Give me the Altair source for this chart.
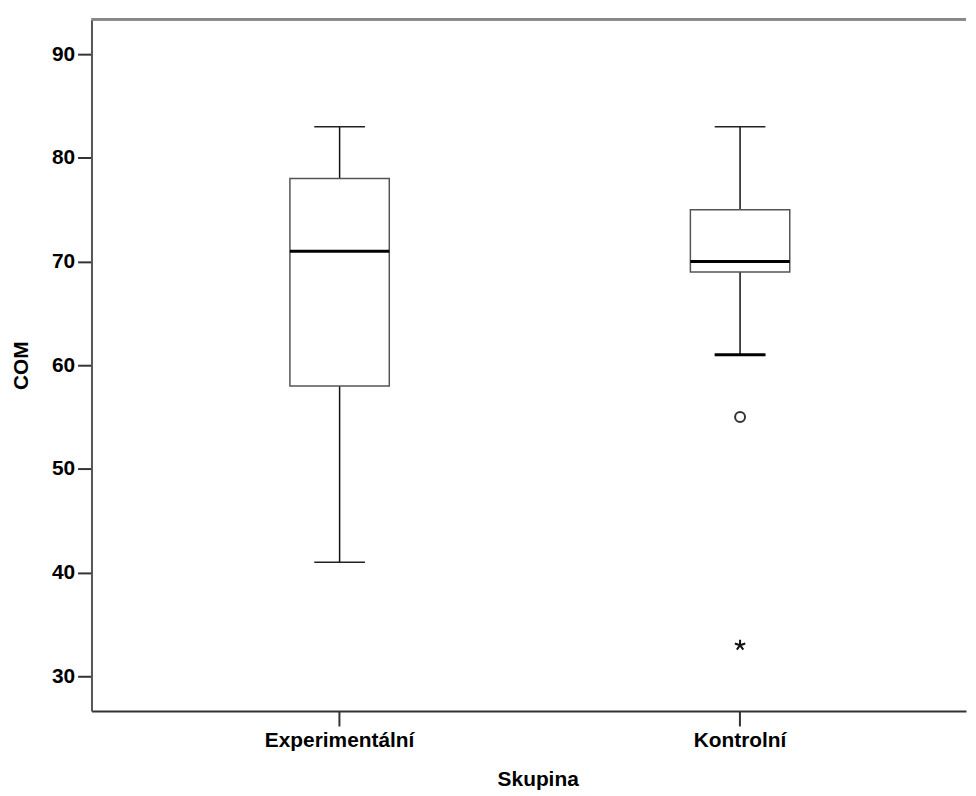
import altair as alt
import pandas as pd

groups = ["Experimentální", "Kontrolní"]
whisker_low = [41, 61]
q1 = [58, 69]
median = [71, 70]
q3 = [78, 75]
whisker_high = [83, 83]

outlier_group = ["Kontrolní", "Kontrolní"]
outlier_value = [55, 33]
outlier_kind = ["mild", "extreme"]

y_ticks = [30, 40, 50, 60, 70, 80, 90]

box = pd.DataFrame({
    "group": groups, "low": whisker_low, "q1": q1,
    "median": median, "q3": q3, "high": whisker_high,
})
outl = pd.DataFrame({"group": outlier_group, "value": outlier_value, "kind": outlier_kind})

FONT = "Liberation Sans"
W, H = 880, 696

xscale = alt.Scale(domain=groups, paddingInner=0.5, paddingOuter=0.3419, align=0.5405)
yscale = alt.Scale(domain=[26.65, 93.35], nice=False, zero=False)

xenc = alt.X("group:N", scale=xscale, sort=groups,
             axis=alt.Axis(title="Skupina", labelAngle=0, tickSize=15, tickWidth=2,
                           tickColor="#333", domainColor="#333", domainWidth=2,
                           labelPadding=4, titlePadding=18, titleX=449, grid=False))
yaxis = alt.Axis(title="COM", values=y_ticks, tickSize=14, tickWidth=2, tickColor="#333",
                 domainColor="#555", domainWidth=2, labelPadding=3, titlePadding=20,
                 grid=False)

base = alt.Chart(box)

whisk_lo = base.mark_rule(color="#111", strokeWidth=1.5, opacity=1).encode(
    x=xenc, y=alt.Y("low:Q", scale=yscale, axis=yaxis), y2="q1:Q")
whisk_hi = base.mark_rule(color="#111", strokeWidth=1.5, opacity=1).encode(
    x=xenc, y=alt.Y("q3:Q", scale=yscale), y2="high:Q")
cap_lo = base.mark_tick(color="#222", size=51, thickness=1.5, orient="horizontal",
                        opacity=1).encode(
    x=xenc, y=alt.Y("low:Q", scale=yscale))
cap_lo_thick = base.transform_filter(alt.datum.group == "Kontrolní").mark_tick(
    color="#000", size=51, thickness=3, orient="horizontal", opacity=1).encode(
    x=xenc, y=alt.Y("low:Q", scale=yscale))
cap_hi = base.mark_tick(color="#222", size=51, thickness=1.5, orient="horizontal",
                        opacity=1).encode(
    x=xenc, y=alt.Y("high:Q", scale=yscale))
rect = base.mark_bar(size=100, fill="white", stroke="#555", strokeWidth=1.5,
                     opacity=1).encode(
    x=xenc, y=alt.Y("q1:Q", scale=yscale), y2="q3:Q")
med = base.mark_tick(color="#000", size=100, thickness=3, orient="horizontal",
                     opacity=1).encode(
    x=xenc, y=alt.Y("median:Q", scale=yscale))

mild = alt.Chart(outl).transform_filter(alt.datum.kind == "mild").mark_point(
    shape="circle", filled=False, size=100, stroke="#333", strokeWidth=2,
    opacity=1).encode(
    x=xenc, y=alt.Y("value:Q", scale=yscale))
star_path = ("M0,0L0,-1M0,0L0.951,-0.309M0,0L0.588,0.809"
             "M0,0L-0.588,0.809M0,0L-0.951,-0.309")
extreme = alt.Chart(outl).transform_filter(alt.datum.kind == "extreme").mark_point(
    shape=star_path, filled=False, size=121, stroke="#111", strokeWidth=2,
    opacity=1).encode(
    x=xenc, y=alt.Y("value:Q", scale=yscale))

top_border = alt.Chart(box).mark_rule(color="#888", strokeWidth=3).encode(
    x=alt.value(0), x2=alt.value(W), y=alt.value(0))

chart = alt.layer(
    top_border, whisk_lo, whisk_hi, rect, med, cap_lo, cap_lo_thick, cap_hi, mild, extreme
).properties(
    width=W, height=H,
    background="white",
    padding={"left": 2, "top": 7, "right": 0, "bottom": 0},
).configure_view(stroke=None).configure_axis(
    labelFont=FONT, titleFont=FONT, labelFontSize=21, titleFontSize=21,
    labelFontWeight="bold", titleFontWeight="bold",
    labelColor="#000", titleColor="#000",
)

chart.save("out.html", embed_options={"renderer": "svg", "actions": False})
